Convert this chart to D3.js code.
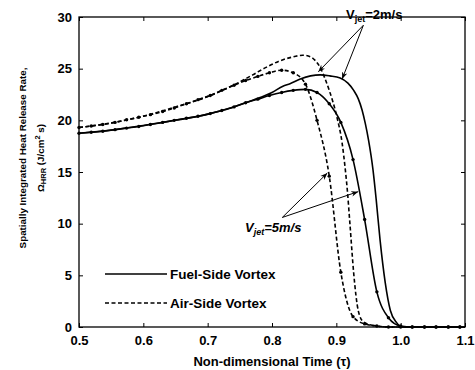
<!DOCTYPE html>
<html>
<head>
<meta charset="utf-8">
<script src="https://cdn.jsdelivr.net/npm/d3@7"></script>
<style>
  body { margin: 0; background: #fff; }
  svg text { font-family: "Liberation Sans", Arial, sans-serif; fill: #000; font-weight: bold; }
</style>
</head>
<body>
<div id="chart"></div>
<script>
// axis ticks
const xTicks = [0.5, 0.6, 0.7, 0.8, 0.9, 1.0, 1.1];
const yTicks = [0, 5, 10, 15, 20, 25, 30];

// Vjet = 5 m/s (lines with dot markers), [tau, HRR]
const airSide5 = [[0.500,19.3],[0.519,19.45],[0.537,19.6],[0.556,19.8],[0.574,20.05],[0.593,20.3],
  [0.611,20.55],[0.630,20.85],[0.648,21.2],[0.667,21.6],[0.685,22.0],[0.704,22.4],[0.722,22.9],
  [0.741,23.4],[0.759,23.85],[0.778,24.25],[0.796,24.6],[0.815,24.85],[0.833,24.6],[0.852,23.5],
  [0.870,20.0],[0.889,14.6],[0.907,5.3],[0.926,1.0],[0.944,0.3],[0.963,0.1],[0.981,0],[1.000,0],
  [1.018,0],[1.037,0],[1.055,0],[1.074,0],[1.092,0]];
const fuelSide5 = [[0.500,18.75],[0.519,18.85],[0.537,18.95],[0.556,19.1],[0.574,19.25],[0.593,19.4],
  [0.611,19.6],[0.630,19.8],[0.648,20.0],[0.667,20.2],[0.685,20.4],[0.704,20.65],[0.722,20.95],
  [0.741,21.3],[0.759,21.7],[0.778,22.05],[0.796,22.4],[0.815,22.7],[0.833,22.9],[0.852,23.0],
  [0.870,22.7],[0.889,21.6],[0.907,19.8],[0.926,16.2],[0.944,10.4],[0.963,3.4],[0.981,0.9],
  [1.000,0.1],[1.018,0],[1.037,0],[1.055,0],[1.074,0],[1.092,0]];

// Vjet = 2 m/s (plain lines)
const airSide2 = [[0.50,19.3],[0.55,19.75],[0.60,20.4],[0.65,21.3],[0.70,22.3],[0.74,23.4],[0.77,24.4],
  [0.79,25.1],[0.81,25.7],[0.83,26.1],[0.848,26.3],[0.86,26.15],[0.867,25.8],[0.875,25.1],[0.882,24.1],
  [0.889,22.9],[0.901,20.3],[0.909,17.8],[0.914,15.2],[0.917,13.3],[0.921,10.1],[0.927,5.2],[0.934,1.6],
  [0.942,0.5],[0.957,0.15],[0.98,0],[1.1,0]];
const fuelSide2 = [[0.50,18.75],[0.55,19.05],[0.60,19.5],[0.65,20.0],[0.70,20.6],[0.74,21.3],[0.77,21.95],
  [0.80,22.7],[0.817,23.3],[0.828,23.55],[0.844,24.0],[0.86,24.3],[0.875,24.4],[0.89,24.3],[0.906,24.1],
  [0.918,23.6],[0.927,22.9],[0.934,22.1],[0.94,21.0],[0.945,19.7],[0.95,18.1],[0.957,15.2],[0.962,12.3],
  [0.968,8.4],[0.976,4.3],[0.984,1.6],[0.994,0.4],[1.002,0],[1.1,0]];

const width = 475, height = 370;
const plotLeft = 79, plotRight = 465, plotTop = 17, plotBottom = 327;

const svg = d3.select("#chart").append("svg")
  .attr("width", width)
  .attr("height", height);

const x = d3.scaleLinear().domain([0.5, 1.1]).range([plotLeft, plotRight]);
const y = d3.scaleLinear().domain([0, 30]).range([plotBottom, plotTop]);

// ticks on all four sides, pointing inward
function styleAxis(g) {
  g.select(".domain").remove();
  g.selectAll("line").attr("stroke", "#000").attr("stroke-width", 1);
  g.selectAll("text").attr("font-size", 13).attr("font-family", "Liberation Sans, Arial, sans-serif");
}
svg.append("g").attr("transform", `translate(0,${plotBottom})`)
  .call(d3.axisBottom(x).tickValues(xTicks).tickFormat(d3.format(".1f")).tickSizeInner(-4).tickSizeOuter(0).tickPadding(9))
  .call(styleAxis);
svg.append("g").attr("transform", `translate(0,${plotTop})`)
  .call(d3.axisTop(x).tickValues(xTicks).tickFormat("").tickSizeInner(-4).tickSizeOuter(0))
  .call(styleAxis);
svg.append("g").attr("transform", `translate(${plotLeft},0)`)
  .call(d3.axisLeft(y).tickValues(yTicks).tickSizeInner(-4).tickSizeOuter(0).tickPadding(7))
  .call(styleAxis);
svg.append("g").attr("transform", `translate(${plotRight},0)`)
  .call(d3.axisRight(y).tickValues(yTicks).tickFormat("").tickSizeInner(-4).tickSizeOuter(0))
  .call(styleAxis);

svg.append("rect")
  .attr("x", plotLeft).attr("y", plotTop)
  .attr("width", plotRight - plotLeft).attr("height", plotBottom - plotTop)
  .attr("fill", "none").attr("stroke", "#000").attr("stroke-width", 1.3);

const line = d3.line()
  .x(d => x(d[0]))
  .y(d => y(d[1]))
  .curve(d3.curveMonotoneX);

const series = [
  {data: fuelSide2, dash: null, dots: false},
  {data: airSide2, dash: "4,2.5", dots: false},
  {data: fuelSide5, dash: null, dots: true},
  {data: airSide5, dash: "4,2.5", dots: true}
];

series.forEach(s => {
  svg.append("path")
    .datum(s.data)
    .attr("d", line)
    .attr("fill", "none")
    .attr("stroke", "#000")
    .attr("stroke-width", 1.6)
    .attr("stroke-dasharray", s.dash);
  if (s.dots) {
    svg.append("g").selectAll("circle")
      .data(s.data)
      .enter().append("circle")
      .attr("cx", d => x(d[0]))
      .attr("cy", d => y(d[1]))
      .attr("r", 1.7)
      .attr("fill", "#000");
  }
});

// legend
const legend = [
  {label: "Fuel-Side Vortex", dash: null, yy: 274},
  {label: "Air-Side Vortex", dash: "4,2.5", yy: 303}
];
legend.forEach(l => {
  svg.append("line")
    .attr("x1", 105).attr("x2", 167)
    .attr("y1", l.yy).attr("y2", l.yy)
    .attr("stroke", "#000").attr("stroke-width", 1.6)
    .attr("stroke-dasharray", l.dash);
  svg.append("text")
    .attr("x", 170).attr("y", l.yy + 5)
    .attr("font-size", 13.5)
    .text(l.label);
});

// arrows
svg.append("defs").append("marker")
  .attr("id", "head")
  .attr("viewBox", "0 0 10 10")
  .attr("refX", 10).attr("refY", 5)
  .attr("markerWidth", 7).attr("markerHeight", 7)
  .attr("markerUnits", "userSpaceOnUse")
  .attr("orient", "auto")
  .append("path")
  .attr("d", "M0,1L10,5L0,9L3,5Z")
  .attr("fill", "#000");

const arrows = [
  [[0.942, 29.2], [0.872, 24.7]],
  [[0.942, 29.2], [0.909, 24.0]],
  [[0.816, 10.6], [0.886, 14.9]],
  [[0.816, 10.6], [0.934, 13.1]]
];
arrows.forEach(a => {
  svg.append("line")
    .attr("x1", x(a[0][0])).attr("y1", y(a[0][1]))
    .attr("x2", x(a[1][0])).attr("y2", y(a[1][1]))
    .attr("stroke", "#000").attr("stroke-width", 1)
    .attr("marker-end", "url(#head)");
});

const v2 = svg.append("text").attr("x", 346).attr("y", 19).attr("font-size", 13);
v2.append("tspan").text("V");
v2.append("tspan").attr("font-size", 9).attr("dy", 3).text("jet");
v2.append("tspan").attr("dy", -3).text("=2m/s");

const v5 = svg.append("text").attr("x", 245).attr("y", 232).attr("font-size", 13).attr("font-style", "italic");
v5.append("tspan").text("V");
v5.append("tspan").attr("font-size", 9).attr("dy", 3).text("jet");
v5.append("tspan").attr("dy", -3).text("=5m/s");

// axis titles
svg.append("text")
  .attr("x", (plotLeft + plotRight) / 2).attr("y", 366)
  .attr("text-anchor", "middle")
  .attr("font-size", 13)
  .text("Non-dimensional Time (τ)");

svg.append("text")
  .attr("transform", "translate(26,158) rotate(-90)")
  .attr("text-anchor", "middle")
  .attr("font-size", 9.8)
  .text("Spatially Integrated Heat Release Rate,");

const yl2 = svg.append("text")
  .attr("transform", "translate(44,158) rotate(-90)")
  .attr("text-anchor", "middle")
  .attr("font-size", 9.8);
yl2.append("tspan").text("Ω");
yl2.append("tspan").attr("font-size", 7.5).attr("dy", 2).text("HRR");
yl2.append("tspan").attr("dy", -2).text(" (J/cm");
yl2.append("tspan").attr("font-size", 7.5).attr("dy", -4).text("2");
yl2.append("tspan").attr("dy", 4).text(" s)");
</script>
</body>
</html>
